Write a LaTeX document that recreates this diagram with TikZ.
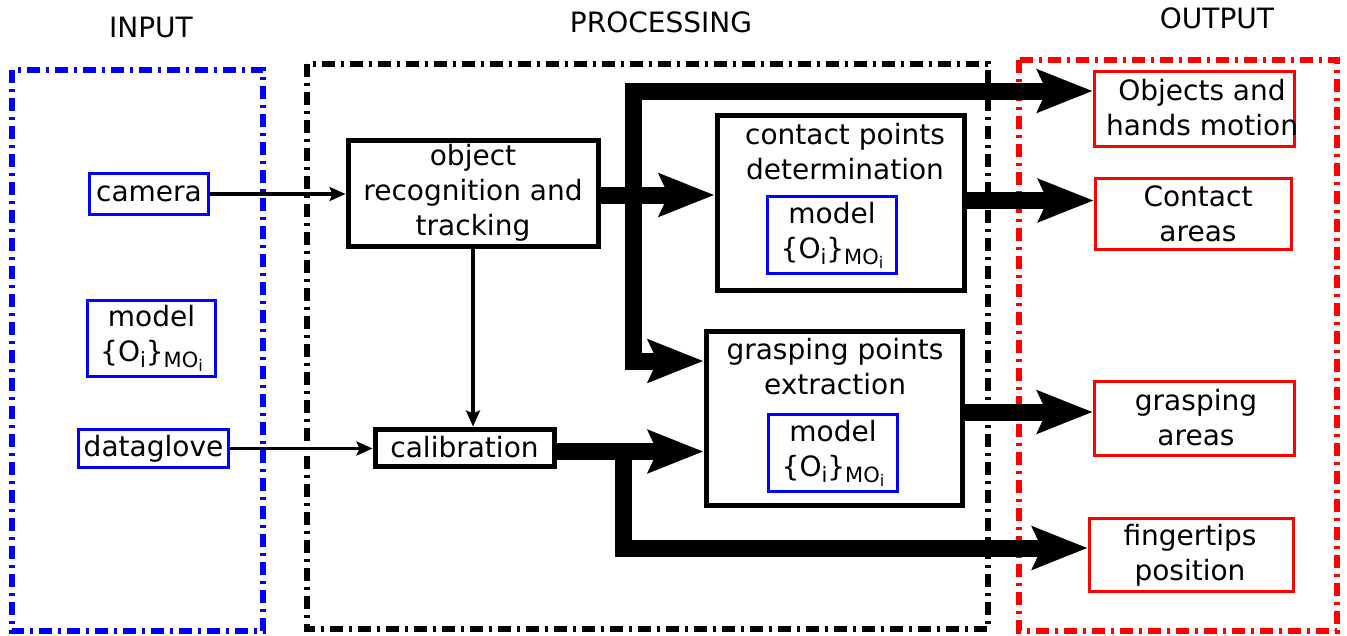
\documentclass[tikz,border=0pt]{standalone}
\usepackage{fontspec}
\setmainfont{DejaVu Sans}
\usetikzlibrary{arrows.meta}
\newcommand\lbl{\fontsize{28}{35}\selectfont}
\newcommand\subtx[1]{\raisebox{-0.22em}{\fontsize{21}{21}\selectfont #1}}
\newcommand\subsubtx[1]{\raisebox{-0.18em}{\fontsize{16}{16}\selectfont #1}}
\newcommand\modeltext{model\\\{O\subtx{i}\}\subtx{MO\subsubtx{i}}}
\begin{document}
\begin{tikzpicture}[x=1pt,y=-1pt,
  frame/.style={line width=5.5pt, dash pattern=on 13pt off 6pt on 3pt off 6pt},
  title/.style={font=\lbl, inner sep=0pt},
  txt/.style={font=\lbl, align=center, inner sep=0pt},
  inbox/.style={draw=blue, line width=3.5pt, inner sep=0pt, align=center, font=\lbl},
  procbox/.style={draw=black, line width=5pt, inner sep=0pt, align=center, font=\lbl},
  outbox/.style={draw=red, line width=3.5pt, inner sep=0pt},
  thinarrow/.style={line width=3.2pt, -{Stealth[length=16pt,width=14pt,inset=3pt]}},
  bigarrow/.style={line width=17pt, -{Stealth[length=55pt,width=42pt,inset=9pt]}},
  bigline/.style={line width=17pt, line cap=rect}]
\useasboundingbox (0,0) rectangle (1347,635);

% group frames
\draw[frame, blue] (12,70) rectangle (263,631);
\draw[frame, black] (307,64) rectangle (988,629);
\draw[frame, red] (1019,60) rectangle (1337,631);

\node[title] (tin) at (151,27) {INPUT};
\node[title] (tproc) at (661,22) {PROCESSING};
\node[title] (tout) at (1217,18.5) {OUTPUT};

% input blocks
\node[inbox, minimum width=119pt, minimum height=41pt] (cam) at (149,194) {camera};
\node[inbox, minimum width=128pt, minimum height=76pt] (modl) at (151.5,338.5) {\modeltext};
\node[inbox, minimum width=150pt, minimum height=38pt] (dg) at (153.5,448.5) {dataglove};

% processing blocks
\node[procbox, minimum width=250pt, minimum height=106pt] (objrec) at (473,193) {object\\recognition and\\tracking};
\node[procbox, minimum width=179pt, minimum height=37pt] (calib) at (464.5,447.5) {calibration};

\node[procbox, minimum width=247pt, minimum height=175pt] (contact) at (840.5,202.5) {};
\node[txt] (ctext) at (845,152) {contact points\\determination};
\node[inbox, minimum width=129pt, minimum height=77pt] (cmod) at (832,235) {\modeltext};

\node[procbox, minimum width=256pt, minimum height=174pt] (grasp) at (834,418) {};
\node[txt] (gtext) at (835,367) {grasping points\\extraction};
\node[inbox, minimum width=129pt, minimum height=77pt] (gmod) at (833,453) {\modeltext};

% output blocks
\node[outbox, minimum width=200pt, minimum height=75pt] (objm) at (1194.5,109) {};
\node[txt] (objmt) at (1202,108) {Objects and\\hands motion};
\node[outbox, minimum width=196pt, minimum height=71pt] (carea) at (1193.5,214) {};
\node[txt] (careat) at (1198,214) {Contact\\areas};
\node[outbox, minimum width=200pt, minimum height=74pt] (garea) at (1194.5,418.5) {};
\node[txt] (gareat) at (1196,418) {grasping\\areas};
\node[outbox, minimum width=204pt, minimum height=73pt] (fing) at (1191.5,555) {};
\node[txt] (fingt) at (1190,555) {fingertips\\position};

% thin connectors
\draw[thinarrow] (cam.east) -- (cam.east -| objrec.west);
\draw[thinarrow] (dg.east) -- (dg.east -| calib.west);
\draw[thinarrow] (objrec.south) -- (objrec.south |- calib.north);

% thick connectors
\coordinate (ja) at (633,91);
\coordinate (jb) at (633,361);
\coordinate (jc) at (623,452);
\coordinate (jd) at (623,548);
\draw[bigline] (ja) -- (jb);
\draw[bigarrow] ([yshift=-2pt]objrec.east) -- ([yshift=-2pt]objrec.east -| contact.west);
\draw[bigarrow] (ja) -- (ja -| objm.west);
\draw[bigarrow] (jb) -- (jb -| grasp.west);
\draw[bigarrow] ([yshift=2pt]contact.east) -- ([yshift=2pt]contact.east -| carea.west);
\draw[bigarrow] ([yshift=6pt]grasp.east) -- ([yshift=6pt]grasp.east -| garea.west);
\draw[bigarrow] ([yshift=-4pt]calib.east) -- ([yshift=-4pt]calib.east -| grasp.west);
\draw[bigarrow] (jc) -- (jd) -- (jd -| fing.west);
\end{tikzpicture}
\end{document}
